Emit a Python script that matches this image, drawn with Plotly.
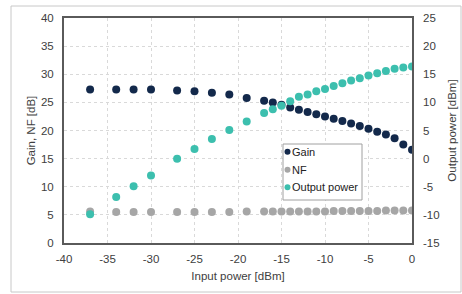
import plotly.graph_objects as go

input_power = [-37, -34, -32, -30, -27, -25, -23, -21, -19, -17, -16, -15, -14, -13, -12,
               -11, -10, -9, -8, -7, -6, -5, -4, -3, -2, -1, 0]
gain = [27.3, 27.3, 27.3, 27.3, 27.1, 27.0, 26.7, 26.4, 25.8, 25.3, 25.0, 24.6, 24.1, 23.7,
        23.3, 22.9, 22.5, 22.1, 21.7, 21.25, 20.8, 20.3, 19.8, 19.3, 18.6, 17.5, 16.6]
nf = [5.6, 5.5, 5.5, 5.5, 5.5, 5.5, 5.5, 5.5, 5.6, 5.6, 5.6, 5.6, 5.6, 5.6, 5.6, 5.6, 5.6,
      5.7, 5.7, 5.7, 5.7, 5.7, 5.7, 5.8, 5.8, 5.8, 5.8]
output_power = [-9.9, -6.8, -4.9, -3.0, 0.0, 1.7, 3.5, 5.1, 6.6, 8.1, 8.8, 9.4, 10.2, 11.0,
                11.4, 12.0, 12.4, 12.9, 13.4, 13.9, 14.3, 14.8, 15.2, 15.6, 16.0, 16.2, 16.4]

series_names = ["Gain", "NF", "Output power"]
series_colors = ["#13294B", "#A6A6A6", "#3CBFAE"]

x_ticks = [-40, -35, -30, -25, -20, -15, -10, -5, 0]
x_tick_labels = ["-40", "-35", "-30", "-25", "-20", "-15", "-10", "-5", "0"]
y_ticks = [0, 5, 10, 15, 20, 25, 30, 35, 40]
y_tick_labels = ["0", "5", "10", "15", "20", "25", "30", "35", "40"]
y2_ticks = [-15, -10, -5, 0, 5, 10, 15, 20, 25]
y2_tick_labels = ["-15", "-10", "-5", "0", "5", "10", "15", "20", "25"]

FONT = "Liberation Sans, Arial, sans-serif"
TXT = "#404040"

W, H = 462, 294
L, R, T, B = 64, 50, 18, 51
PW, PH = W - L - R, H - T - B


def px(xp):
    return (xp - L) / PW


def py(yp):
    return (H - B - yp) / PH


fig = go.Figure()
fig.add_trace(go.Scatter(x=input_power, y=gain, mode="markers", name=series_names[0],
                         marker=dict(color=series_colors[0], size=8)))
fig.add_trace(go.Scatter(x=input_power, y=nf, mode="markers", name=series_names[1],
                         marker=dict(color=series_colors[1], size=8)))
fig.add_trace(go.Scatter(x=input_power, y=output_power, mode="markers", name=series_names[2],
                         marker=dict(color=series_colors[2], size=8), yaxis="y2"))

shapes = [
    # outer chart border
    dict(type="rect", xref="paper", yref="paper",
         x0=px(11), x1=px(461), y0=py(292), y1=py(6),
         line=dict(color="#C8C8C8", width=1), layer="above"),
    # legend box
    dict(type="rect", xref="paper", yref="paper",
         x0=px(283), x1=px(362), y0=py(200), y1=py(144),
         line=dict(color="#A0A0A0", width=1), fillcolor="white", layer="above"),
]
annotations = []
item_y = [151.7, 169.7, 187.3]
for name, color, yc in zip(series_names, series_colors, item_y):
    shapes.append(dict(type="circle", xref="paper", yref="paper",
                       x0=px(284.5), x1=px(290.5), y0=py(yc + 3), y1=py(yc - 3),
                       line=dict(width=0), fillcolor=color, layer="above"))
    annotations.append(dict(xref="paper", yref="paper", x=px(291), y=py(yc),
                            xanchor="left", yanchor="middle", showarrow=False,
                            text=name, font=dict(size=11, color="#222222"),
                            borderpad=0))

fig.update_layout(
    width=W, height=H,
    margin=dict(l=L, r=R, t=T, b=B, autoexpand=False),
    paper_bgcolor="white", plot_bgcolor="white",
    font=dict(family=FONT, size=11.5, color=TXT),
    showlegend=False,
    xaxis=dict(range=[-40, 0], tickvals=x_ticks, ticktext=x_tick_labels,
               showgrid=True, gridcolor="#D9D9D9", griddash="dot", gridwidth=1,
               showline=True, linecolor="#5A5A5A", linewidth=2, mirror=True,
               zeroline=False, ticks="", ticklabelstandoff=4, automargin=False,
               title=dict(text="Input power [dBm]", standoff=8, font=dict(size=11.5))),
    yaxis=dict(range=[0, 40], tickvals=y_ticks, ticktext=y_tick_labels,
               showgrid=True, gridcolor="#D9D9D9", griddash="dot", gridwidth=1,
               showline=True, linecolor="#5A5A5A", linewidth=2, mirror=True,
               zeroline=False, ticks="", ticklabelstandoff=6, automargin=False,
               title=dict(text="Gain, NF [dB]", standoff=3, font=dict(size=11.5))),
    yaxis2=dict(range=[-15, 25], tickvals=y2_ticks, ticktext=y2_tick_labels,
                overlaying="y", side="right", showgrid=False, zeroline=False,
                showline=False, ticks="", ticklabelstandoff=10, automargin=False,
                title=dict(text="Output power [dBm]", standoff=9, font=dict(size=11.5))),
    shapes=shapes,
    annotations=annotations,
)

fig.write_html("out.html", config={"displayModeBar": False},
               post_script="document.body.style.margin='0';document.body.style.overflow='hidden';")
